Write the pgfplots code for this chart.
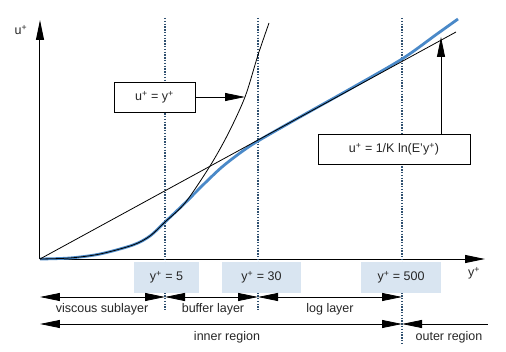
\documentclass[border=0pt]{standalone}
\usepackage{pgfplots}
\pgfplotsset{compat=1.18}
\usepackage{fontspec}
\setmainfont{Liberation Sans}
\usetikzlibrary{arrows.meta}
\definecolor{bluecurve}{HTML}{4A89C8}
\definecolor{dotcol}{HTML}{2F5070}
\definecolor{boxfill}{HTML}{D9E5F1}
\begin{document}
\begin{tikzpicture}[
  tip/.style={-{Triangle[length=20pt,width=8pt]}},
  dtip/.style={{Triangle[length=20pt,width=8pt]}-{Triangle[length=20pt,width=8pt]}},
  lbl/.style={font=\fontsize{12.5}{14}\selectfont, text=black!85, inner sep=0pt}
]
\begin{axis}[
  x=1pt, y=1pt,
  xmin=0, xmax=445, ymin=0, ymax=239,
  axis lines=left,
  axis line style={line width=1pt, -{Triangle[length=20pt,width=8pt]}},
  xtick=\empty, ytick=\empty,
  clip=false,
]
% invisible bounding frame
\path (axis cs:-40,-92) rectangle (axis cs:466,259);

% dotted lines
\addplot[dotcol, line width=1.4pt, dash pattern=on 1.4pt off 1.4pt] coordinates {(125,241) (125,-51)};
\addplot[dotcol, line width=1.4pt, dash pattern=on 1.4pt off 1.4pt] coordinates {(218,241) (218,-51)};
\addplot[dotcol, line width=1.4pt, dash pattern=on 1.4pt off 1.4pt] coordinates {(362,241) (362,-84)};

% blue measured profile
\addplot[bluecurve, line width=2.8pt, smooth] coordinates {
(0,0) (30,1) (60,5) (93,14) (110,23) (125,37) (145,56) (165,76) (182,92)
(200,106) (218,118) (260,142) (310,170) (362,200) (397,225) (418,240)};

% viscous law u+=y+
\addplot[black, line width=0.8pt, smooth] coordinates {
(0,0) (30,1) (60,5) (93,14) (110,23) (125,37) (145,56) (170,93) (188,125) (205,162) (218,204) (229,236)};

% log law
\addplot[black, line width=0.8pt] coordinates {(0,0) (416,227)};

% annotation boxes
\draw[line width=0.8pt, fill=white] (axis cs:74,147) rectangle (axis cs:155,177);
\node[lbl] at (axis cs:114.5,162) {u\textsuperscript{+} = y\textsuperscript{+}};
\draw[line width=0.8pt, tip] (axis cs:155,162) -- (axis cs:205,162);

\draw[line width=0.8pt, fill=white] (axis cs:278,95) rectangle (axis cs:430,125);
\node[lbl] at (axis cs:354,110) {u\textsuperscript{+} = 1/K ln(E'y\textsuperscript{+})};
\draw[line width=0.8pt, tip] (axis cs:401,125) -- (axis cs:401,222);

% y+ value boxes
\fill[boxfill] (axis cs:94,-3) rectangle (axis cs:159,-34);
\node[lbl] at (axis cs:126.5,-18.5) {y\textsuperscript{+} = 5};
\fill[boxfill] (axis cs:182,-3) rectangle (axis cs:261,-34);
\node[lbl] at (axis cs:221.5,-18.5) {y\textsuperscript{+} = 30};
\fill[boxfill] (axis cs:321,-3) rectangle (axis cs:401,-34);
\node[lbl] at (axis cs:361,-18.5) {y\textsuperscript{+} = 500};

% axis labels
\node[lbl] at (axis cs:-19,229) {u\textsuperscript{+}};
\node[lbl] at (axis cs:434,-14) {y\textsuperscript{+}};

% region arrows
\draw[line width=0.8pt, dtip] (axis cs:0,-38) -- (axis cs:125,-38);
\draw[line width=0.8pt, dtip] (axis cs:125,-38) -- (axis cs:218,-38);
\draw[line width=0.8pt, dtip] (axis cs:218,-38) -- (axis cs:362,-38);
\node[lbl] at (axis cs:62,-50) {viscous sublayer};
\node[lbl] at (axis cs:173,-50) {buffer layer};
\node[lbl] at (axis cs:290,-50) {log layer};

\draw[line width=0.8pt, dtip] (axis cs:0,-65) -- (axis cs:362,-65);
\draw[line width=0.8pt, {Triangle[length=20pt,width=8pt]}-] (axis cs:362,-65) -- (axis cs:448,-65);
\node[lbl] at (axis cs:187,-78) {inner region};
\node[lbl] at (axis cs:409,-78) {outer region};
\end{axis}
\end{tikzpicture}
\end{document}
